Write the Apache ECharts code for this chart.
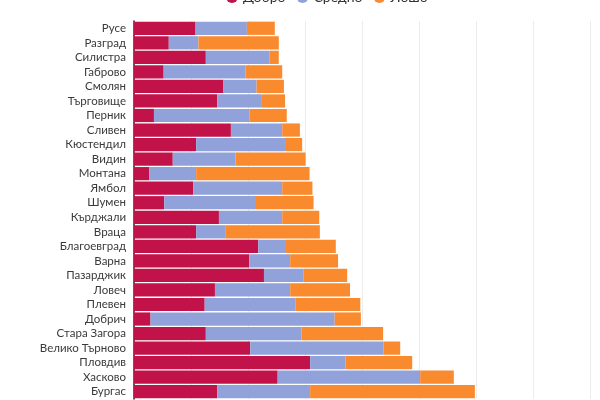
<!DOCTYPE html>
<html>
<head>
<meta charset="utf-8">
<script src="https://cdn.jsdelivr.net/npm/echarts@6/dist/echarts.min.js"></script>
<style>
html,body{margin:0;padding:0;width:600px;height:400px;overflow:hidden;background:#fff;}
#c{position:absolute;left:0;top:-20px;width:600px;height:460px;}
</style>
</head>
<body>
<div id="c"></div>
<script>
const categories = ["Русе","Разград","Силистра","Габрово","Смолян","Търговище","Перник","Сливен","Кюстендил","Видин","Монтана","Ямбол","Шумен","Кърджали","Враца","Благоевград","Варна","Пазарджик","Ловеч","Плевен","Добрич","Стара Загора","Велико Търново","Пловдив","Хасково","Бургас"];
const good   = [10.8, 6.1, 12.6, 5.2, 15.7, 14.6, 3.5, 17.0, 10.9, 6.8, 2.7, 10.4, 5.3, 14.9, 10.9, 21.8, 20.2, 22.8, 14.2, 12.4, 2.9, 12.6, 20.4, 30.9, 25.2, 14.6];
const medium = [9.0, 5.2, 11.2, 14.4, 5.8, 7.7, 16.8, 9.0, 15.6, 11.0, 8.2, 15.6, 16.1, 11.1, 5.1, 4.7, 7.2, 6.9, 13.2, 15.9, 32.3, 16.8, 23.4, 6.2, 25.0, 16.3];
const bad    = [4.9, 14.1, 1.6, 6.4, 4.8, 4.2, 6.5, 3.1, 3.0, 12.3, 19.9, 5.3, 10.1, 6.5, 16.6, 8.9, 8.4, 7.7, 10.5, 11.4, 4.6, 14.3, 2.9, 11.7, 5.9, 28.9];
const seriesNames = ["Добро","Средно","Лошо"];

const chart = echarts.init(document.getElementById('c'), null, {renderer:'canvas'});
const font = 'Lato, "Noto Sans", sans-serif';
chart.setOption({
  animation:false,
  color:['#C1134A','#91A2DA','#F98A2E'],
  legend:{
    top:5, left:221,
    icon:'circle', itemWidth:12, itemHeight:12, itemGap:11,
    textStyle:{fontFamily:font, fontSize:14, color:'#333'},
    data:seriesNames
  },
  grid:{left:134, right:9, top:41, bottom:41, containLabel:false},
  xAxis:{
    type:'value', min:0, max:80, interval:10,
    axisLine:{show:false}, axisTick:{show:false},
    splitLine:{lineStyle:{color:'#ececec', width:1}},
    axisLabel:{fontFamily:font, color:'#555'}
  },
  yAxis:{
    type:'category', inverse:true, data:categories,
    axisLine:{lineStyle:{color:'#2a2a2a', width:1.5}},
    axisTick:{show:false},
    axisLabel:{fontFamily:font, fontSize:11.5, color:'#3a3a3a', margin:8, interval:0}
  },
  series:[
    {name:seriesNames[0], type:'bar', stack:'s', data:good, barCategoryGap:'9%'},
    {name:seriesNames[1], type:'bar', stack:'s', data:medium, barCategoryGap:'9%'},
    {name:seriesNames[2], type:'bar', stack:'s', data:bad, barCategoryGap:'9%'}
  ]
});
</script>
</body>
</html>
